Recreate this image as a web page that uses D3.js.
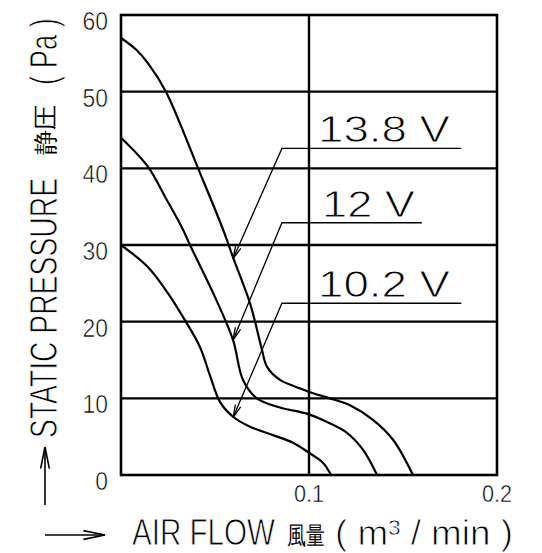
<!DOCTYPE html>
<html>
<head>
<meta charset="utf-8">
<script src="https://cdn.jsdelivr.net/npm/d3@7"></script>
<style>
  body { margin: 0; background: #fff; }
  text { font-family: "Liberation Sans", Arial, sans-serif; }
</style>
</head>
<body>
<div id="chart"></div>
<script>
// fan curves: [air flow m3/min, static pressure Pa]
var curve138 = [[0,57],[0.008,55.5],[0.0144,53.7],[0.0239,50],[0.041,40],[0.0543,32],[0.0596,28.4],[0.0681,22.8],
                [0.0713,20],[0.075,16.3],[0.0777,14.1],[0.0846,12.4],[0.0952,11.3],[0.1005,10.8],[0.1112,10.0],
                [0.1218,9.1],[0.134,7.2],[0.1447,4.6],[0.1553,0]];
var curve12  = [[0,44],[0.0144,40.2],[0.0234,36.3],[0.033,32],[0.0367,30],[0.05,23.2],[0.0596,17.6],[0.0649,12.4],
                [0.0723,10.0],[0.0846,8.8],[0.0989,8.0],[0.1096,6.9],[0.1202,5.5],[0.1287,3.3],[0.1362,0]];
var curve102 = [[0,30],[0.0144,27.1],[0.025,23.7],[0.034,20.2],[0.042,16.7],[0.0473,13.0],[0.0527,9.5],[0.0596,7.6],
                [0.0686,6.3],[0.0809,5.2],[0.0915,4.2],[0.1,2.9],[0.1074,1.6],[0.1117,0]];

var voltLabels = ["13.8  V", "12  V", "10.2  V"];
var tipPa = [28.2, 17.6, 7.5];       // where the leader arrow touches each curve
var tipFlow = 0.0596;
var elbowPa = [42.6, 32.9, 22.4];
var elbowFlow = 0.0856;
var underlineEnd = [0.181, 0.160, 0.181];

var yTicks = [0, 10, 20, 30, 40, 50, 60];
var xTicks = [0, 0.1, 0.2];
var xTickLabels = ["0", "0.1", "0.2"];

var width = 542, height = 553;
var margin = {top: 15, right: 45, bottom: 78, left: 121};

var svg = d3.select("#chart").append("svg")
    .attr("width", width)
    .attr("height", height);

var x = d3.scaleLinear().domain([0, 0.2]).range([margin.left, width - margin.right]);
var y = d3.scaleLinear().domain([0, 60]).range([height - margin.bottom, margin.top]);

// grid
svg.selectAll("line.hgrid")
    .data(yTicks.slice(1, -1))
    .join("line")
    .attr("class", "hgrid")
    .attr("x1", x(0)).attr("x2", x(0.2))
    .attr("y1", d => y(d)).attr("y2", d => y(d))
    .attr("stroke", "#000").attr("stroke-width", 2.4);

svg.append("line")
    .attr("x1", x(0.1)).attr("x2", x(0.1))
    .attr("y1", y(0)).attr("y2", y(60))
    .attr("stroke", "#000").attr("stroke-width", 2.4);

svg.append("rect")
    .attr("x", x(0)).attr("y", y(60))
    .attr("width", x(0.2) - x(0)).attr("height", y(0) - y(60))
    .attr("fill", "none").attr("stroke", "#000").attr("stroke-width", 2.6);

// thin the glyphs a bit (CAD-like lettering)
function thin(sel, w) {
    sel.attr("fill", "#000").attr("stroke", "#fff").attr("stroke-width", w || 0.9);
}
// squeeze a text horizontally so it spans `len` px
function fit(t, base, len) {
    var n = t.node().getComputedTextLength();
    t.attr("transform", base + " scale(" + (len / n).toFixed(3) + ",1)");
    return t;
}

svg.selectAll("text.ytick")
    .data(yTicks)
    .join("text")
    .attr("class", "ytick")
    .attr("transform", d => "translate(108," + (y(d) + 15) + ") scale(0.88,1)")
    .attr("text-anchor", "end")
    .style("font-size", "26px")
    .text(d => d)
    .call(thin, 0.6);

svg.selectAll("text.xtick")
    .data(xTicks.slice(1))
    .join("text")
    .attr("class", "xtick")
    .attr("transform", d => "translate(" + x(d) + ",502) scale(0.9,1)")
    .attr("text-anchor", "middle")
    .style("font-size", "24px")
    .text((d, i) => xTickLabels[i + 1])
    .call(thin, 0.5);

// curves
var line = d3.line()
    .x(d => x(d[0]))
    .y(d => y(d[1]))
    .curve(d3.curveCatmullRom.alpha(0.5));

svg.selectAll("path.curve")
    .data([curve138, curve12, curve102])
    .join("path")
    .attr("class", "curve")
    .attr("d", line)
    .attr("fill", "none")
    .attr("stroke", "#000")
    .attr("stroke-width", 2.2);

// leaders + labels
voltLabels.forEach(function(lbl, i) {
    var tx = x(tipFlow), ty = y(tipPa[i]);
    var ex = x(elbowFlow), ey = y(elbowPa[i]);
    svg.append("polyline")
        .attr("points", [[x(underlineEnd[i]), ey], [ex, ey], [tx, ty]].map(p => p.join(",")).join(" "))
        .attr("fill", "none").attr("stroke", "#000").attr("stroke-width", 1.3);
    var ang = Math.atan2(ey - ty, ex - tx), len = 13, spread = 0.22;
    [ang - spread, ang + spread].forEach(function(a) {
        svg.append("line")
            .attr("x1", tx).attr("y1", ty)
            .attr("x2", tx + len * Math.cos(a)).attr("y2", ty + len * Math.sin(a))
            .attr("stroke", "#000").attr("stroke-width", 1.3);
    });
    var t = svg.append("text")
        .style("font-size", "37px")
        .text(lbl)
        .call(thin);
    fit(t, "translate(" + (i == 1 ? 322 : 318) + "," + (ey - 6) + ")", i == 1 ? 93 : 132);
});

// axis titles, in pieces
function title(txt, size, len, base) {
    var t = svg.append("text")
        .style("font-size", size + "px")
        .text(txt);
    if (size > 30) t.call(thin);
    return fit(t, base, len);
}
title("STATIC  PRESSURE", 38, 260, "translate(57,438) rotate(-90)");
title("静圧", 25, 50, "translate(54,155) rotate(-90)");
title("( Pa )", 38, 67, "translate(57,85) rotate(-90)");

title("AIR  FLOW", 36, 143, "translate(132,545)");
title("風量", 25, 38, "translate(287,544)");
title("( m³ / min )", 36, 178, "translate(335,545)");

// axis arrows
function arrow(x1, y1, x2, y2) {
    svg.append("line").attr("x1", x1).attr("y1", y1).attr("x2", x2).attr("y2", y2)
        .attr("stroke", "#000").attr("stroke-width", 1.6);
    var a = Math.atan2(y1 - y2, x1 - x2);
    [a - 0.2, a + 0.2].forEach(function(b) {
        svg.append("line").attr("x1", x2).attr("y1", y2)
            .attr("x2", x2 + 22 * Math.cos(b)).attr("y2", y2 + 22 * Math.sin(b))
            .attr("stroke", "#000").attr("stroke-width", 1.6);
    });
}
arrow(45, 505, 45, 447);
arrow(45, 535, 105, 535);
</script>
</body>
</html>
